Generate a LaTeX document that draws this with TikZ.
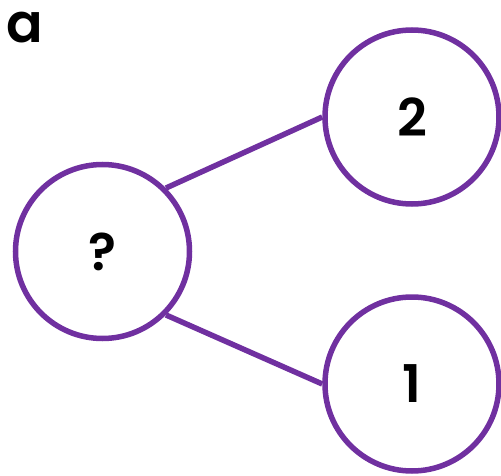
\documentclass[tikz,border=0pt]{standalone}
\usepackage{fontspec}
\setmainfont{Poppins}
\newfontfamily\chiffres{Poppins SemiBold}
\usepackage{xcolor}
\definecolor{violet}{RGB}{112,48,160}

\tikzset{
  bulle/.style={circle, draw=violet, line width=5.5pt, minimum size=174pt, inner sep=0pt,
    font=\chiffres\fontsize{52}{52}\selectfont},
  lien/.style={draw=violet, line width=5.5pt}
}

\begin{document}
\begin{tikzpicture}[x=1pt,y=1pt]
\useasboundingbox (0,0) rectangle (501,475);
%\draw[help lines] (0,0) grid (501,475);
\node[font=\chiffres\fontsize{54}{54}\selectfont] (lettre) at (25,447) {a};
\node[bulle] (q) at (102.5,223.5) {?};
\node[bulle] (deux) at (412,358) {2};
\node[bulle] (un) at (412,91) {1};
\draw[lien] (q.north east) -- (deux.west);
\draw[lien] (q.south east) -- (un.west);
\end{tikzpicture}
\end{document}
